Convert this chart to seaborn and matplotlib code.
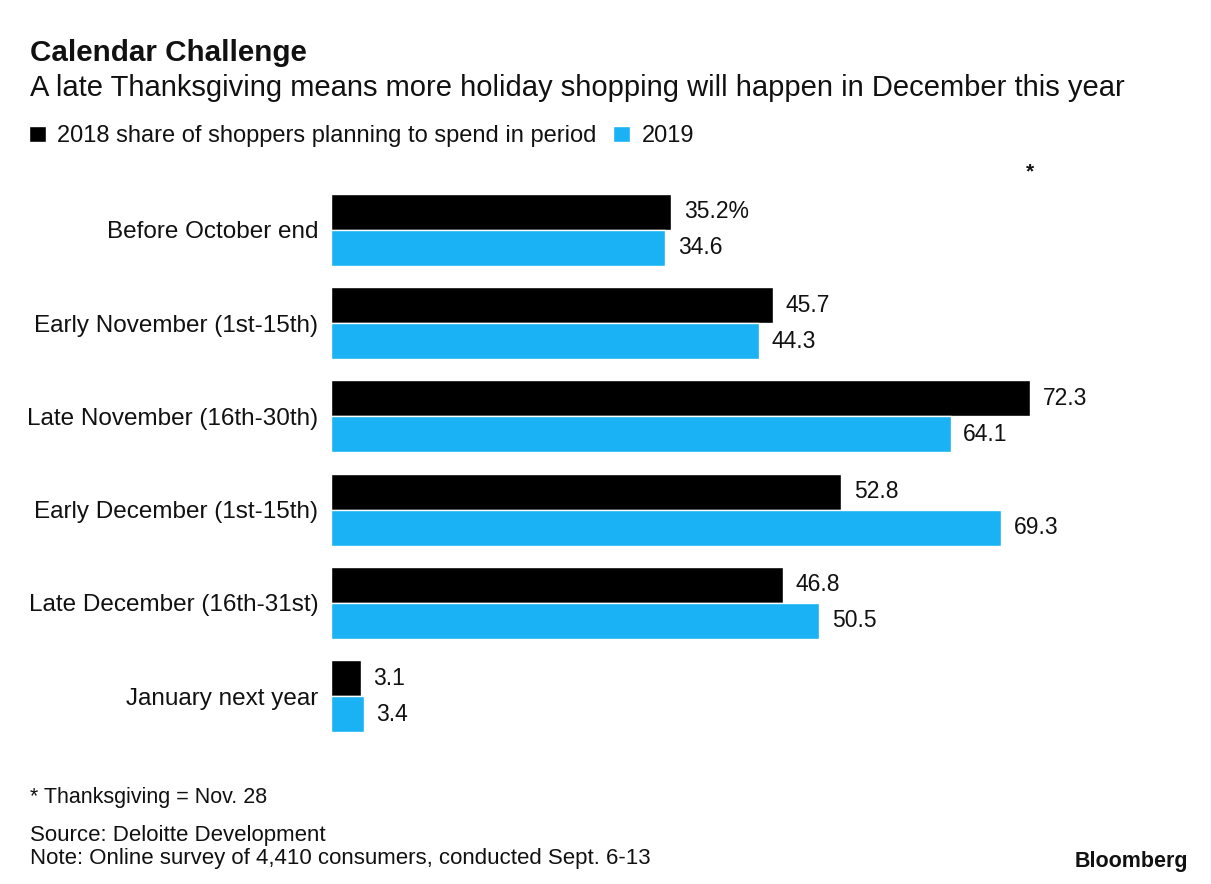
import pandas as pd
import matplotlib.pyplot as plt
import seaborn as sns

# Data
periods = ['Before October end', 'Early November (1st-15th)', 'Late November (16th-30th)',
           'Early December (1st-15th)', 'Late December (16th-31st)', 'January next year']
share_2018 = [35.2, 45.7, 72.3, 52.8, 46.8, 3.1]
share_2019 = [34.6, 44.3, 64.1, 69.3, 50.5, 3.4]
labels_2018 = ['35.2%', '45.7', '72.3', '52.8', '46.8', '3.1']
labels_2019 = ['34.6', '44.3', '64.1', '69.3', '50.5', '3.4']
series_names = ['2018 share of shoppers planning to spend in period', '2019']
thanksgiving_period = 'Late November (16th-30th)'

df = pd.DataFrame({
    'period': periods * 2,
    'share': share_2018 + share_2019,
    'year': [series_names[0]] * len(periods) + [series_names[1]] * len(periods),
})

sns.set_style('white')
plt.rcParams['font.family'] = ['Liberation Sans', 'DejaVu Sans']
plt.rcParams['text.color'] = '#111111'

fig = plt.figure(figsize=(12.11, 8.84), dpi=100)
ax = fig.add_axes([0.2733, 0.1493, 0.6387, 0.6539])

sns.barplot(data=df, y='period', x='share', hue='year', order=periods,
            hue_order=series_names, palette=['#000000', '#1ab2f5'],
            width=0.77, saturation=1, ax=ax)

for cont, labs in zip(ax.containers, [labels_2018, labels_2019]):
    ax.bar_label(cont, labels=labs, padding=9, fontsize=16.5, color='#111111')

ax.set_xlim(0, 80)
ax.set_ylim(len(periods) - 0.4, -0.6)
ax.set_xlabel('')
ax.set_ylabel('')
ax.set_xticks([])
ax.tick_params(axis='y', length=0, pad=9, labelsize=17.5, labelcolor='#111111')
sns.despine(ax=ax, left=True, bottom=True)

# asterisk marking the Thanksgiving period
ax.annotate('*', xy=(share_2018[periods.index(thanksgiving_period)], 1.0),
            xycoords=('data', 'axes fraction'), ha='center', va='bottom',
            fontsize=15, fontweight='bold', xytext=(0, -5), textcoords='offset points')

leg = ax.legend(loc='center left', bbox_to_anchor=(0.024, 0.846), bbox_transform=fig.transFigure,
                ncol=2, frameon=False, fontsize=17, handlelength=0.7, handleheight=0.7,
                handletextpad=0.5, columnspacing=0.7, borderaxespad=0, borderpad=0)
for t in leg.get_texts():
    t.set_color('#111111')

fig.text(0.025, 0.94, 'Calendar Challenge', fontsize=21.3, fontweight='bold', va='center')
fig.text(0.025, 0.901, 'A late Thanksgiving means more holiday shopping will happen in December this year',
         fontsize=21, va='center')
fig.text(0.025, 0.098, '* Thanksgiving = Nov. 28', fontsize=15.5, va='center')
fig.text(0.025, 0.055, 'Source: Deloitte Development', fontsize=16, va='center')
fig.text(0.025, 0.029, 'Note: Online survey of 4,410 consumers, conducted Sept. 6-13', fontsize=16, va='center')
fig.text(0.981, 0.025, 'Bloomberg', fontsize=15.5, fontweight='bold', ha='right', va='center')

fig.savefig('out.png', dpi=100)
